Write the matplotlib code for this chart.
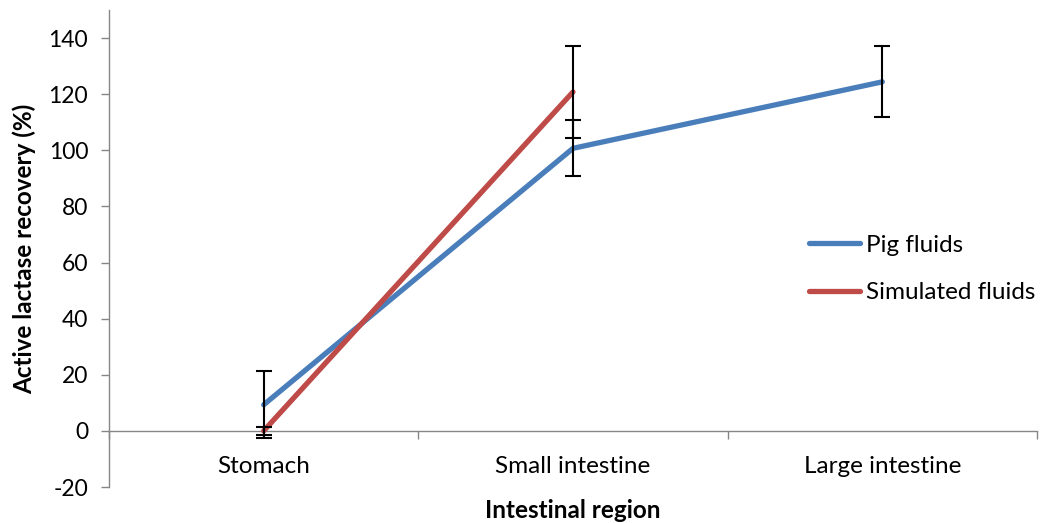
import matplotlib
matplotlib.use("Agg")
import matplotlib.pyplot as plt

categories = ["Stomach", "Small intestine", "Large intestine"]
pig_values = [9.3, 100.7, 124.4]
pig_err = [11.9, 10.0, 12.7]
sim_values = [0.0, 120.8]
sim_err = [1.5, 16.3]
yticks = [-20, 0, 20, 40, 60, 80, 100, 120, 140]

plt.rcParams['font.family'] = ['Lato', 'DejaVu Sans']
fs = 17.5
blue = '#4A7EBB'
red = '#BE4B48'
spine_c = '#868686'

fig = plt.figure(figsize=(10.46, 5.23), dpi=100)
ax = fig.add_axes([109/1046, 36/523, (1037-109)/1046, (487-10)/523])

x_pig = list(range(1, len(pig_values) + 1))
x_sim = list(range(1, len(sim_values) + 1))

ax.plot(x_pig, pig_values, color=blue, lw=3.8, solid_capstyle='round', label='Pig fluids', zorder=3)
ax.plot(x_sim, sim_values, color=red, lw=3.8, solid_capstyle='round', label='Simulated fluids', zorder=4)
ax.errorbar(x_pig, pig_values, yerr=pig_err, fmt='none', ecolor='black', elinewidth=1.5, capsize=6, capthick=1.5, zorder=5)
ax.errorbar(x_sim, sim_values, yerr=sim_err, fmt='none', ecolor='black', elinewidth=1.5, capsize=6, capthick=1.5, zorder=5)

ax.set_xlim(0.5, len(categories) + 0.5)
ax.set_ylim(-20, 150)
ax.set_yticks(yticks)
ax.set_yticklabels([str(v) for v in yticks], fontsize=16.5)

for s in ['top', 'right']:
    ax.spines[s].set_visible(False)
ax.spines['left'].set_color(spine_c)
ax.spines['bottom'].set_color(spine_c)
ax.spines['bottom'].set_position(('data', 0))
ax.spines['left'].set_linewidth(1.0)
ax.spines['bottom'].set_linewidth(1.0)

ax.tick_params(axis='y', direction='out', length=6, color=spine_c, width=1.0, pad=9)
ax.set_xticks([i + 0.5 for i in range(0, len(categories) + 1)])
ax.set_xticklabels([])
ax.tick_params(axis='x', which='major', direction='out', length=6, color=spine_c, width=1.0)
ax.set_xticks(list(range(1, len(categories) + 1)), minor=True)
ax.set_xticklabels(categories, minor=True, fontsize=fs)
ax.tick_params(axis='x', which='minor', length=0, pad=18)

ax.set_ylabel('Active lactase recovery (%)', fontsize=fs, fontweight='bold', labelpad=9)
ax.set_xlabel('Intestinal region', fontsize=fs, fontweight='bold', labelpad=16)

leg = ax.legend(loc='center left', bbox_to_anchor=(787/1046, 254/523), bbox_transform=fig.transFigure,
                frameon=False, fontsize=fs, handlelength=2.1, handletextpad=0.25, labelspacing=1.1)

fig.savefig('out.png', dpi=100)
